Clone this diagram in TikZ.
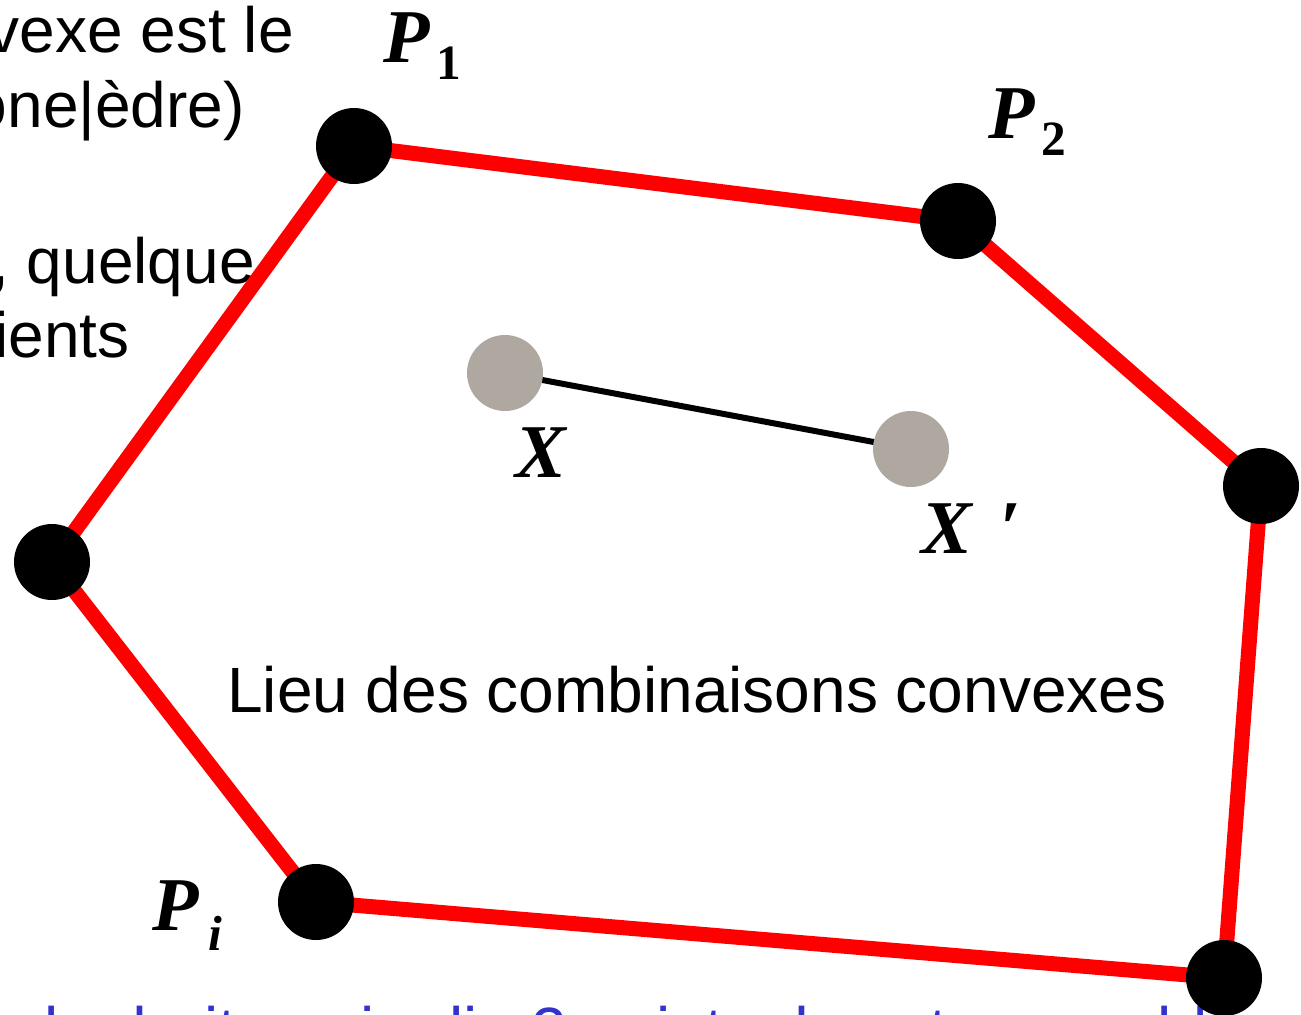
\documentclass[tikz,border=0pt]{standalone}
\usepackage{fontspec}
\setmainfont{Liberation Sans}
\newfontfamily\labfont{Liberation Serif}
\definecolor{dotgray}{RGB}{174,168,161}
\definecolor{slideblue}{RGB}{51,51,204}
\pgfdeclarelayer{textlayer}
\pgfdeclarelayer{edgelayer}
\pgfsetlayers{textlayer,edgelayer,main}
\newcommand\subsc[2][-13pt]{\raisebox{#1}{\fontsize{37}{42}\selectfont #2}}
\begin{document}
\begin{tikzpicture}[x=0.75pt,y=-0.75pt,
  vertex/.style={circle,fill=black,inner sep=0pt,minimum size=57pt},
  gdot/.style={circle,fill=dotgray,inner sep=0pt,minimum size=57pt},
  hull/.style={draw=red,line width=11.25pt,line join=round},
  seg/.style={draw=black,line width=4.5pt},
  body/.style={inner sep=0pt,font=\fontsize{48}{58}\selectfont},
  lab/.style={inner sep=0pt,anchor=base west,font=\labfont\bfseries\itshape\fontsize{57}{64}\selectfont},
]
\useasboundingbox (0,0) rectangle (1301,1014);
\clip (0,0) rectangle (1301,1014);

% vertices
\node[vertex] (p1) at (354,146) {};
\node[vertex] (p2) at (958,221) {};
\node[vertex] (p3) at (1261,486) {};
\node[vertex] (p4) at (1224,978) {};
\node[vertex] (pi) at (316,902) {};
\node[vertex] (p6) at (52,562) {};

% interior points
\node[gdot] (x) at (505,373) {};
\node[gdot] (xp) at (911,449) {};

\begin{pgfonlayer}{edgelayer}
\draw[hull] (p1.center) -- (p2.center) -- (p3.center) -- (p4.center) -- (pi.center) -- (p6.center) -- cycle;
\draw[seg] (x.center) -- (xp.center);
\end{pgfonlayer}

% labels
\node[lab] (l1) at (383,62) {P\hspace{5pt}\subsc{\upshape 1}};
\node[lab] (l2) at (988,138) {P\hspace{5pt}\subsc{\upshape 2}};
\node[lab] (li) at (152,930) {P\hspace{7pt}\subsc[-15pt]{i}};
\node[lab] (lx) at (515,477) {X};
\node[lab] (lxp) at (921,553) {X\hspace{21pt}′};

\begin{pgfonlayer}{textlayer}
\node[body,anchor=base east] (t1) at (294,52) {vexe est le};
\node[body,anchor=base east] (t2) at (245,127) {one|èdre)};
\node[body,anchor=base east] (t3) at (255,283) {, quelque};
\node[body,anchor=base east] (t4) at (130,357) {ients};
\node[body,anchor=base west] (lieu) at (227,712) {Lieu des combinaisons convexes};
\node[body,anchor=base west,text=slideblue] (blue) at (44,1052) {la droite qui relie 2 points de cet ensemble};
\end{pgfonlayer}
\end{tikzpicture}
\end{document}
